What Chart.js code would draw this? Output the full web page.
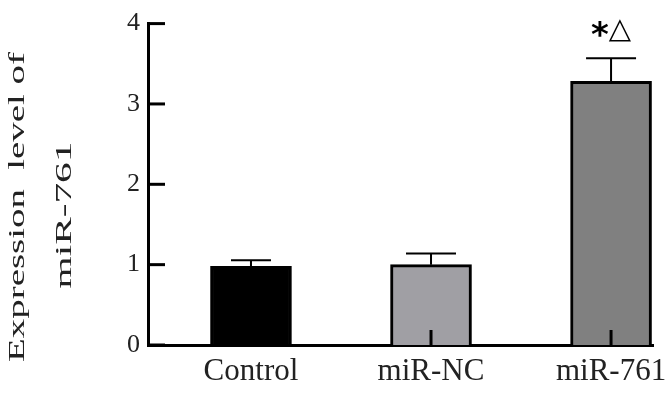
<!DOCTYPE html>
<html>
<head>
<meta charset="utf-8">
<script src="https://cdn.jsdelivr.net/npm/chart.js@4/dist/chart.umd.min.js"></script>
<style>
  html, body { margin: 0; padding: 0; background: #fff; }
  #wrap { width: 669px; height: 393px; }
</style>
</head>
<body>
<div id="wrap"><canvas id="expChart" width="669" height="393"></canvas></div>
<script>
// values
const categories = ['Control', 'miR-NC', 'miR-761'];
const means = [0.98, 1.0, 3.28];
const errors = [0.075, 0.14, 0.29];
const marks = ['', '', '*△'];
const barColors = ['#000000', '#a09fa4', '#808080'];
const yTicks = [0, 1, 2, 3, 4];
const yTitle = ['Expression  level of', 'miR-761'];

const serif = '"Liberation Serif", "Times New Roman", serif';

// the asterisk is drawn heavier and lower than the triangle, like the figure
function markFont(ch) {
    return ch === '*' ? 'bold 34px "DejaVu Sans", sans-serif' : '29px "DejaVu Sans", sans-serif';
}

// inward ticks, error bars and significance marks
const extrasPlugin = {
    id: 'extras',
    afterDatasetsDraw(chart) {
        const ctx = chart.ctx;
        const xs = chart.scales.x, ys = chart.scales.y;
        const area = chart.chartArea;
        ctx.save();
        ctx.strokeStyle = '#000';

        // error bars
        ctx.lineWidth = 2;
        means.forEach((m, i) => {
            const cx = xs.getPixelForValue(i);
            const yTop = ys.getPixelForValue(m);
            const yErr = ys.getPixelForValue(m + errors[i]);
            const half = i === 0 ? 20 : 25;
            ctx.beginPath();
            ctx.moveTo(cx, yTop);
            ctx.lineTo(cx, yErr);
            ctx.moveTo(cx - half, yErr);
            ctx.lineTo(cx + half, yErr);
            ctx.stroke();
        });

        // ticks pointing into the plot
        ctx.lineWidth = 3;
        yTicks.forEach(v => {
            const py = ys.getPixelForValue(v);
            ctx.beginPath();
            ctx.moveTo(area.left, py);
            ctx.lineTo(area.left + 17, py);
            ctx.stroke();
        });
        categories.forEach((c, i) => {
            const px = xs.getPixelForValue(i);
            ctx.beginPath();
            ctx.moveTo(px, area.bottom);
            ctx.lineTo(px, area.bottom - 15);
            ctx.stroke();
        });

        // significance marks
        ctx.fillStyle = '#000';
        ctx.textAlign = 'left';
        ctx.textBaseline = 'middle';
        marks.forEach((t, i) => {
            if (!t) return;
            const chars = Array.from(t);
            const widths = chars.map(ch => { ctx.font = markFont(ch); return ctx.measureText(ch).width; });
            let x = xs.getPixelForValue(i) - widths.reduce((a, b) => a + b, 0) / 2;
            const py = ys.getPixelForValue(means[i] + errors[i]) - 28;
            chars.forEach((ch, k) => {
                ctx.font = markFont(ch);
                ctx.fillText(ch, x, ch === '*' ? py + 7 : py);
                x += widths[k];
            });
        });
        ctx.restore();
    },
    afterDraw(chart) {
        // rotated, stretched y title as in the figure
        const ctx = chart.ctx;
        ctx.save();
        ctx.fillStyle = '#222';
        ctx.font = '24px ' + serif;
        ctx.textAlign = 'center';
        ctx.textBaseline = 'alphabetic';
        const pos = [[24, 207], [71, 215]];
        const stretch = [1.62, 1.72];
        yTitle.forEach((line, i) => {
            ctx.save();
            ctx.translate(pos[i][0], pos[i][1]);
            ctx.rotate(-Math.PI / 2);
            ctx.scale(stretch[i], 1);
            ctx.fillText(line, 0, 0);
            ctx.restore();
        });
        ctx.restore();
    }
};

new Chart(document.getElementById('expChart'), {
    type: 'bar',
    data: {
        datasets: [{
            data: means.map((m, i) => ({ x: i, y: m })),
            backgroundColor: barColors,
            borderColor: '#000',
            borderWidth: 3,
            borderSkipped: 'bottom',
            barThickness: 81
        }]
    },
    options: {
        responsive: false,
        animation: false,
        events: [],
        layout: { padding: { left: 0, right: 16, top: 19, bottom: 0 } },
        plugins: {
            legend: { display: false },
            tooltip: { enabled: false }
        },
        scales: {
            x: {
                type: 'linear',
                offset: false,
                min: -0.572,
                max: 2.233,
                afterBuildTicks: s => { s.ticks = categories.map((c, i) => ({ value: i })); },
                afterFit: s => { s.height = 48; s.paddingLeft = 0; s.paddingRight = 0; },
                ticks: {
                    callback: v => categories[v],
                    font: { family: serif, size: 31 },
                    color: '#222',
                    padding: 8,
                    maxRotation: 0,
                    autoSkip: false
                },
                grid: { display: false, drawTicks: false, offset: false },
                border: { display: true, color: '#000', width: 3 }
            },
            y: {
                min: 0,
                max: 4,
                afterBuildTicks: s => { s.ticks = yTicks.map(v => ({ value: v })); },
                afterFit: s => { s.width = 148; },
                ticks: {
                    font: { family: serif, size: 26 },
                    color: '#222',
                    padding: 8
                },
                grid: { display: false, drawTicks: false },
                border: { display: true, color: '#000', width: 3 }
            }
        }
    },
    plugins: [extrasPlugin]
});
</script>
</body>
</html>
